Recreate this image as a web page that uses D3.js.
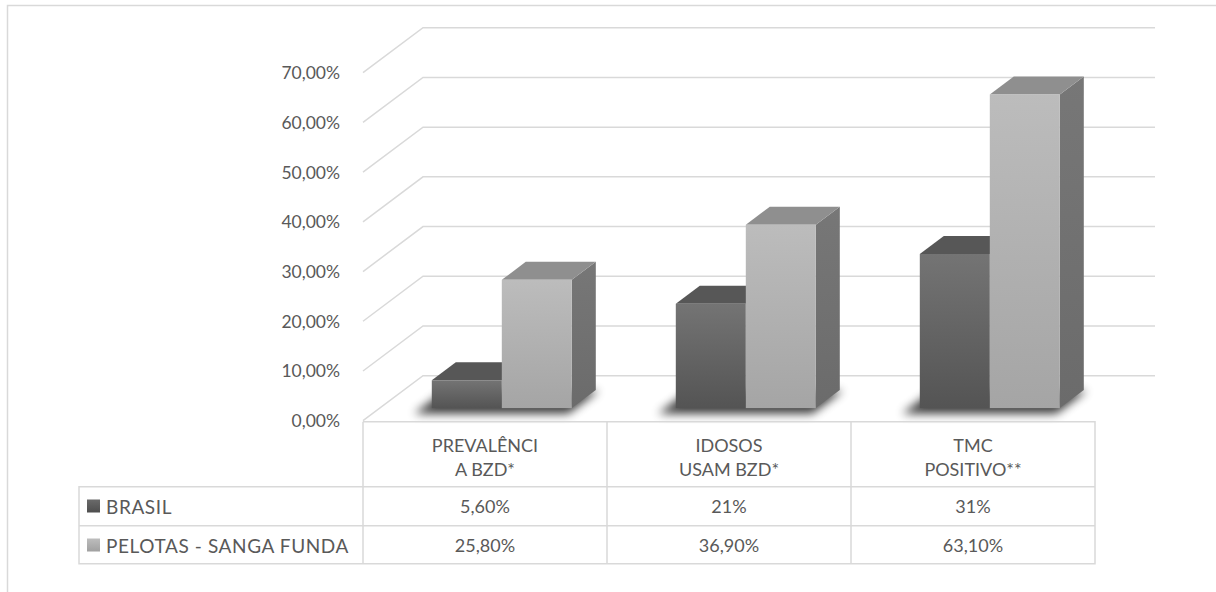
<!DOCTYPE html>
<html>
<head>
<meta charset="utf-8">
<script src="https://cdn.jsdelivr.net/npm/d3@7/dist/d3.min.js"></script>
<style>
  html, body { margin: 0; padding: 0; background: #fff; }
  svg { display: block; }
  text { font-family: Lato, "Open Sans", sans-serif; fill: #595959; }
</style>
</head>
<body>
<svg id="chart" width="1216" height="592"></svg>
<script>
// Chart data
const categories = [["PREVALÊNCI", "A BZD*"], ["IDOSOS", "USAM BZD*"], ["TMC", "POSITIVO**"]];
const seriesNames = ["BRASIL", "PELOTAS - SANGA FUNDA"];
const brasil = [5.6, 21, 31];
const pelotas = [25.8, 36.9, 63.1];
const brasilLabels = ["5,60%", "21%", "31%"];
const pelotasLabels = ["25,80%", "36,90%", "63,10%"];
const yTicks = [0, 10, 20, 30, 40, 50, 60, 70];
const yTickLabels = ["0,00%", "10,00%", "20,00%", "30,00%", "40,00%", "50,00%", "60,00%", "70,00%"];

const svg = d3.select("#chart");
const defs = svg.append("defs");

// layout
const plotLeft = 363, plotRight = 1095;
const floorFront = 420.7, topFront = 72.7;
const depthDX = 60, depthDY = -45;      // full depth offset of the back wall
const barD0 = 0.28, barD1 = 0.68;        // bar depth span (fraction of full depth)
const barW = 70;

const x = d3.scaleBand().domain(d3.range(categories.length)).range([plotLeft, plotRight]).padding(0);
const xs = d3.scaleBand().domain(seriesNames).range([0, x.bandwidth()])
  .paddingInner(0).paddingOuter((x.bandwidth() / barW - 2) / 2);
const y = d3.scaleLinear().domain([0, 70]).range([floorFront, topFront]);

const P = (px, v, d) => [px + d * depthDX, y(v) + d * depthDY];
const poly = pts => "M" + pts.map(p => p.join(",")).join("L") + "Z";

// gradients
function vGrad(id, top, bottom) {
  const g = defs.append("linearGradient").attr("id", id).attr("x1", 0).attr("y1", 0).attr("x2", 0).attr("y2", 1);
  g.append("stop").attr("offset", 0).attr("stop-color", top);
  g.append("stop").attr("offset", 1).attr("stop-color", bottom);
}
vGrad("darkFront", "#747474", "#545454");
vGrad("darkSide", "#4a4a4a", "#3c3c3c");
vGrad("lightFront", "#bcbcbc", "#a5a5a5");
vGrad("lightSide", "#777777", "#6b6b6b");
vGrad("darkKey", "#6a6a6a", "#4e4e4e");
vGrad("lightKey", "#bdbdbd", "#a0a0a0");

const styles = {
  "BRASIL": { front: "url(#darkFront)", top: "#575757", side: "url(#darkSide)" },
  "PELOTAS - SANGA FUNDA": { front: "url(#lightFront)", top: "#8f8f8f", side: "url(#lightSide)" }
};

defs.append("filter").attr("id", "shadowBlur").attr("x", "-30%").attr("y", "-100%").attr("width", "160%").attr("height", "300%")
  .append("feGaussianBlur").attr("stdDeviation", 5);

// outer border
svg.append("rect").attr("x", 7.5).attr("y", 5.5).attr("width", 1300).attr("height", 700)
  .attr("fill", "none").attr("stroke", "#d9d9d9").attr("stroke-width", 1.5);

// gridlines: front-left diagonal + back wall
const grid = svg.append("g").attr("fill", "none").attr("stroke", "#d9d9d9").attr("stroke-width", 1.5);
yTicks.forEach(v => {
  const a = P(plotLeft, v, 0), b = P(plotLeft, v, 1), c = P(plotRight, v, 1);
  grid.append("path").attr("d", `M${a}L${b}L${c}`);
});

// tick labels
svg.append("g").selectAll("text").data(yTicks).join("text")
  .attr("x", 340).attr("y", d => y(d)).attr("text-anchor", "end").attr("dominant-baseline", "central")
  .attr("font-size", 17.5).text((d, i) => yTickLabels[i]);

// bars
const values = { "BRASIL": brasil, "PELOTAS - SANGA FUNDA": pelotas };
const bars = svg.append("g");
categories.forEach((cat, ci) => {
  const gx0 = x(ci) + xs(seriesNames[0]);
  const gx1 = x(ci) + xs(seriesNames[1]) + barW;
  // soft floor shadow
  const e = 10;
  bars.append("path")
    .attr("d", poly([P(gx0 - e, 0, barD0 - 0.06), P(gx1 + e * 0.4, 0, barD0 - 0.06), P(gx1 + e * 0.4, 0, barD1 + 0.05), P(gx0 - e, 0, barD1 + 0.05)]))
    .attr("transform", "translate(-4,3)")
    .attr("fill", "#000").attr("opacity", 0.75).attr("filter", "url(#shadowBlur)");
  seriesNames.forEach(s => {
    const v = values[s][ci];
    const bx0 = x(ci) + xs(s), bx1 = bx0 + xs.bandwidth();
    const st = styles[s];
    // side face
    bars.append("path").attr("d", poly([P(bx1, 0, barD0), P(bx1, v, barD0), P(bx1, v, barD1), P(bx1, 0, barD1)]))
      .attr("fill", st.side);
    // top face
    bars.append("path").attr("d", poly([P(bx0, v, barD0), P(bx1, v, barD0), P(bx1, v, barD1), P(bx0, v, barD1)]))
      .attr("fill", st.top);
    // front face
    const f0 = P(bx0, v, barD0), f1 = P(bx1, 0, barD0);
    bars.append("rect").attr("x", f0[0]).attr("y", f0[1]).attr("width", f1[0] - f0[0]).attr("height", f1[1] - f0[1])
      .attr("fill", st.front);
  });
});

// data table
const rowTop = 421.7, rowH1 = 486.7, rowH2 = 525.7, rowH3 = 563.7;
const labelLeft = 79;
const tbl = svg.append("g").attr("stroke", "#d9d9d9").attr("stroke-width", 1.5).attr("fill", "none");
tbl.append("path").attr("d", `M${plotLeft},${rowTop}H${plotRight}V${rowH3}H${labelLeft}V${rowH1}H${plotRight}M${labelLeft},${rowH2}H${plotRight}`);
d3.range(categories.length).forEach(ci => {
  tbl.append("path").attr("d", `M${x(ci)},${rowTop}V${rowH3}`);
});

const cx = ci => x(ci) + x.bandwidth() / 2;
const txt = svg.append("g").attr("font-size", 18).attr("text-anchor", "middle").attr("dominant-baseline", "central");
categories.forEach((lines, ci) => {
  lines.forEach((ln, li) => txt.append("text").attr("x", cx(ci)).attr("y", 445 + li * 24).text(ln));
  txt.append("text").attr("x", cx(ci)).attr("y", 506).text(brasilLabels[ci]);
  txt.append("text").attr("x", cx(ci)).attr("y", 545).text(pelotasLabels[ci]);
});

// legend keys inside the table
const rowsY = [506, 545];
const keyFill = ["url(#darkKey)", "url(#lightKey)"];
seriesNames.forEach((s, i) => {
  svg.append("rect").attr("x", 87).attr("y", rowsY[i] - 6.5).attr("width", 13).attr("height", 13).attr("fill", keyFill[i]);
  svg.append("text").attr("x", 106).attr("y", rowsY[i]).attr("dominant-baseline", "central")
    .attr("font-size", 19).attr("letter-spacing", 0.6).text(s);
});
</script>
</body>
</html>
